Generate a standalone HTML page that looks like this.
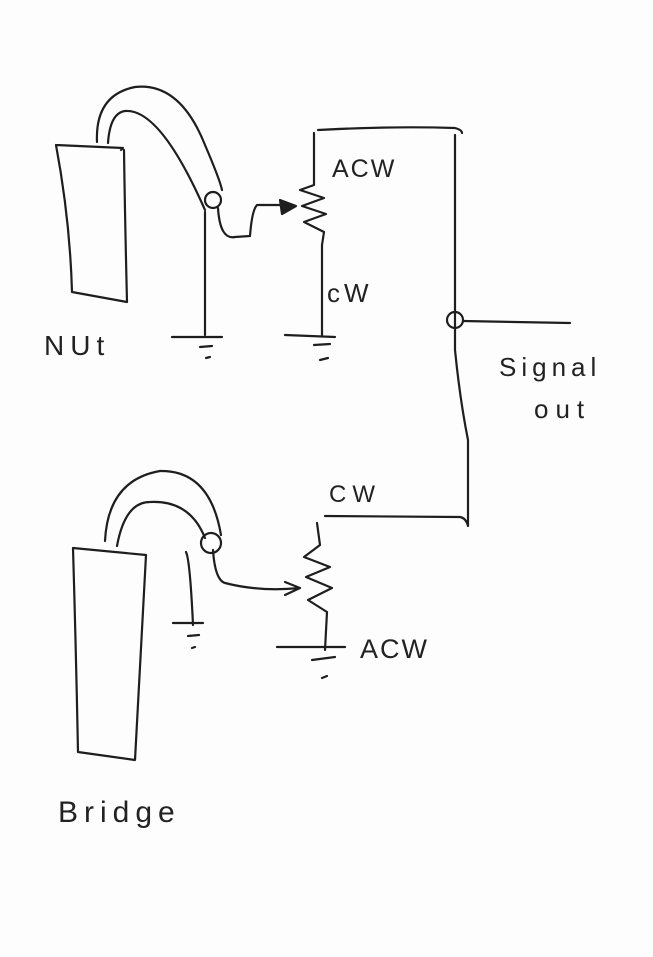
<!DOCTYPE html>
<html><head><style>
html,body{margin:0;padding:0;background:#fff;}
svg{display:block}
text{font-family:"Liberation Sans",sans-serif;fill:#222;}
</style></head><body>
<svg width="653" height="957" viewBox="0 0 653 957" xmlns="http://www.w3.org/2000/svg">
<rect width="653" height="957" fill="#fdfdfd"/>
<g fill="none" stroke="#1e1e1e" stroke-width="2.2" stroke-linecap="round" stroke-linejoin="round">
<path d="M56,145 L123,148 L121,150 M56,145 Q70,220 72,292 L127,302 Q125,220 124,150"/>
<path d="M97,142 Q95,95 135,87 Q180,82 205,145 Q220,180 222,190"/>
<path d="M108,143 Q110,113 125,111 Q160,108 205,210"/>
<circle cx="213" cy="200" r="8"/>
<path d="M205,212 L205,335"/>
<path d="M172,337 L222,337 M200,347 L212,346 M206,358 L210,357"/>
<path d="M218,208 Q220,240 235,237 L250,236 Q252,210 257,205 L285,205"/>
<path d="M280,200 L296,206 L282,214 Z" fill="#1e1e1e"/>
<path d="M314,133 L314,185 L300,190 L324,198 L302,206 L326,214 L304,222 L324,232 L322,245 L322,335"/>
<path d="M285,335 L335,337 M314,345 L330,344 M320,360 L328,358"/>
<path d="M318,130 Q390,126 455,128 Q462,130 462,133"/>
<path d="M455,135 L455,350 Q460,400 468,440 L468,526 Q466,518 460,517 L325,516"/>
<circle cx="455" cy="320" r="8"/>
<path d="M463,321 L570,323"/>
<path d="M73,548 L146,555 Q140,660 135,760 L78,752 Q76,650 73,548"/>
<path d="M105,541 Q108,480 160,471 Q210,470 221,535"/>
<path d="M117,546 Q125,502 150,502 Q190,500 205,538"/>
<circle cx="211" cy="543" r="10"/>
<path d="M186,552 Q190,560 193,625 M173,623 L203,623 M188,636 L199,635 M192,648 L195,647"/>
<path d="M213,550 Q215,580 225,583 Q260,592 300,588 M285,582 L300,588 L285,595"/>
<path d="M317,523 L320,545 L304,557 L330,567 L306,577 L332,588 L308,600 L327,612 L325,650"/>
<path d="M277,647 L345,647 M312,660 L335,657 M322,678 L327,676"/>
</g>
<g fill="#222">
<text x="332" y="177" font-size="25" letter-spacing="2">ACW</text>
<text x="327" y="302" font-size="26" letter-spacing="4">cW</text>
<text x="44" y="355" font-size="28" letter-spacing="6">NUt</text>
<text x="499" y="376" font-size="26" letter-spacing="5">Signal</text>
<text x="534" y="418" font-size="26" letter-spacing="7">out</text>
<text x="329" y="502" font-size="24" letter-spacing="6">CW</text>
<text x="360" y="658" font-size="27" letter-spacing="2">ACW</text>
<text x="58" y="822" font-size="30" letter-spacing="6">Bridge</text>
</g>
</svg>
</body></html>
